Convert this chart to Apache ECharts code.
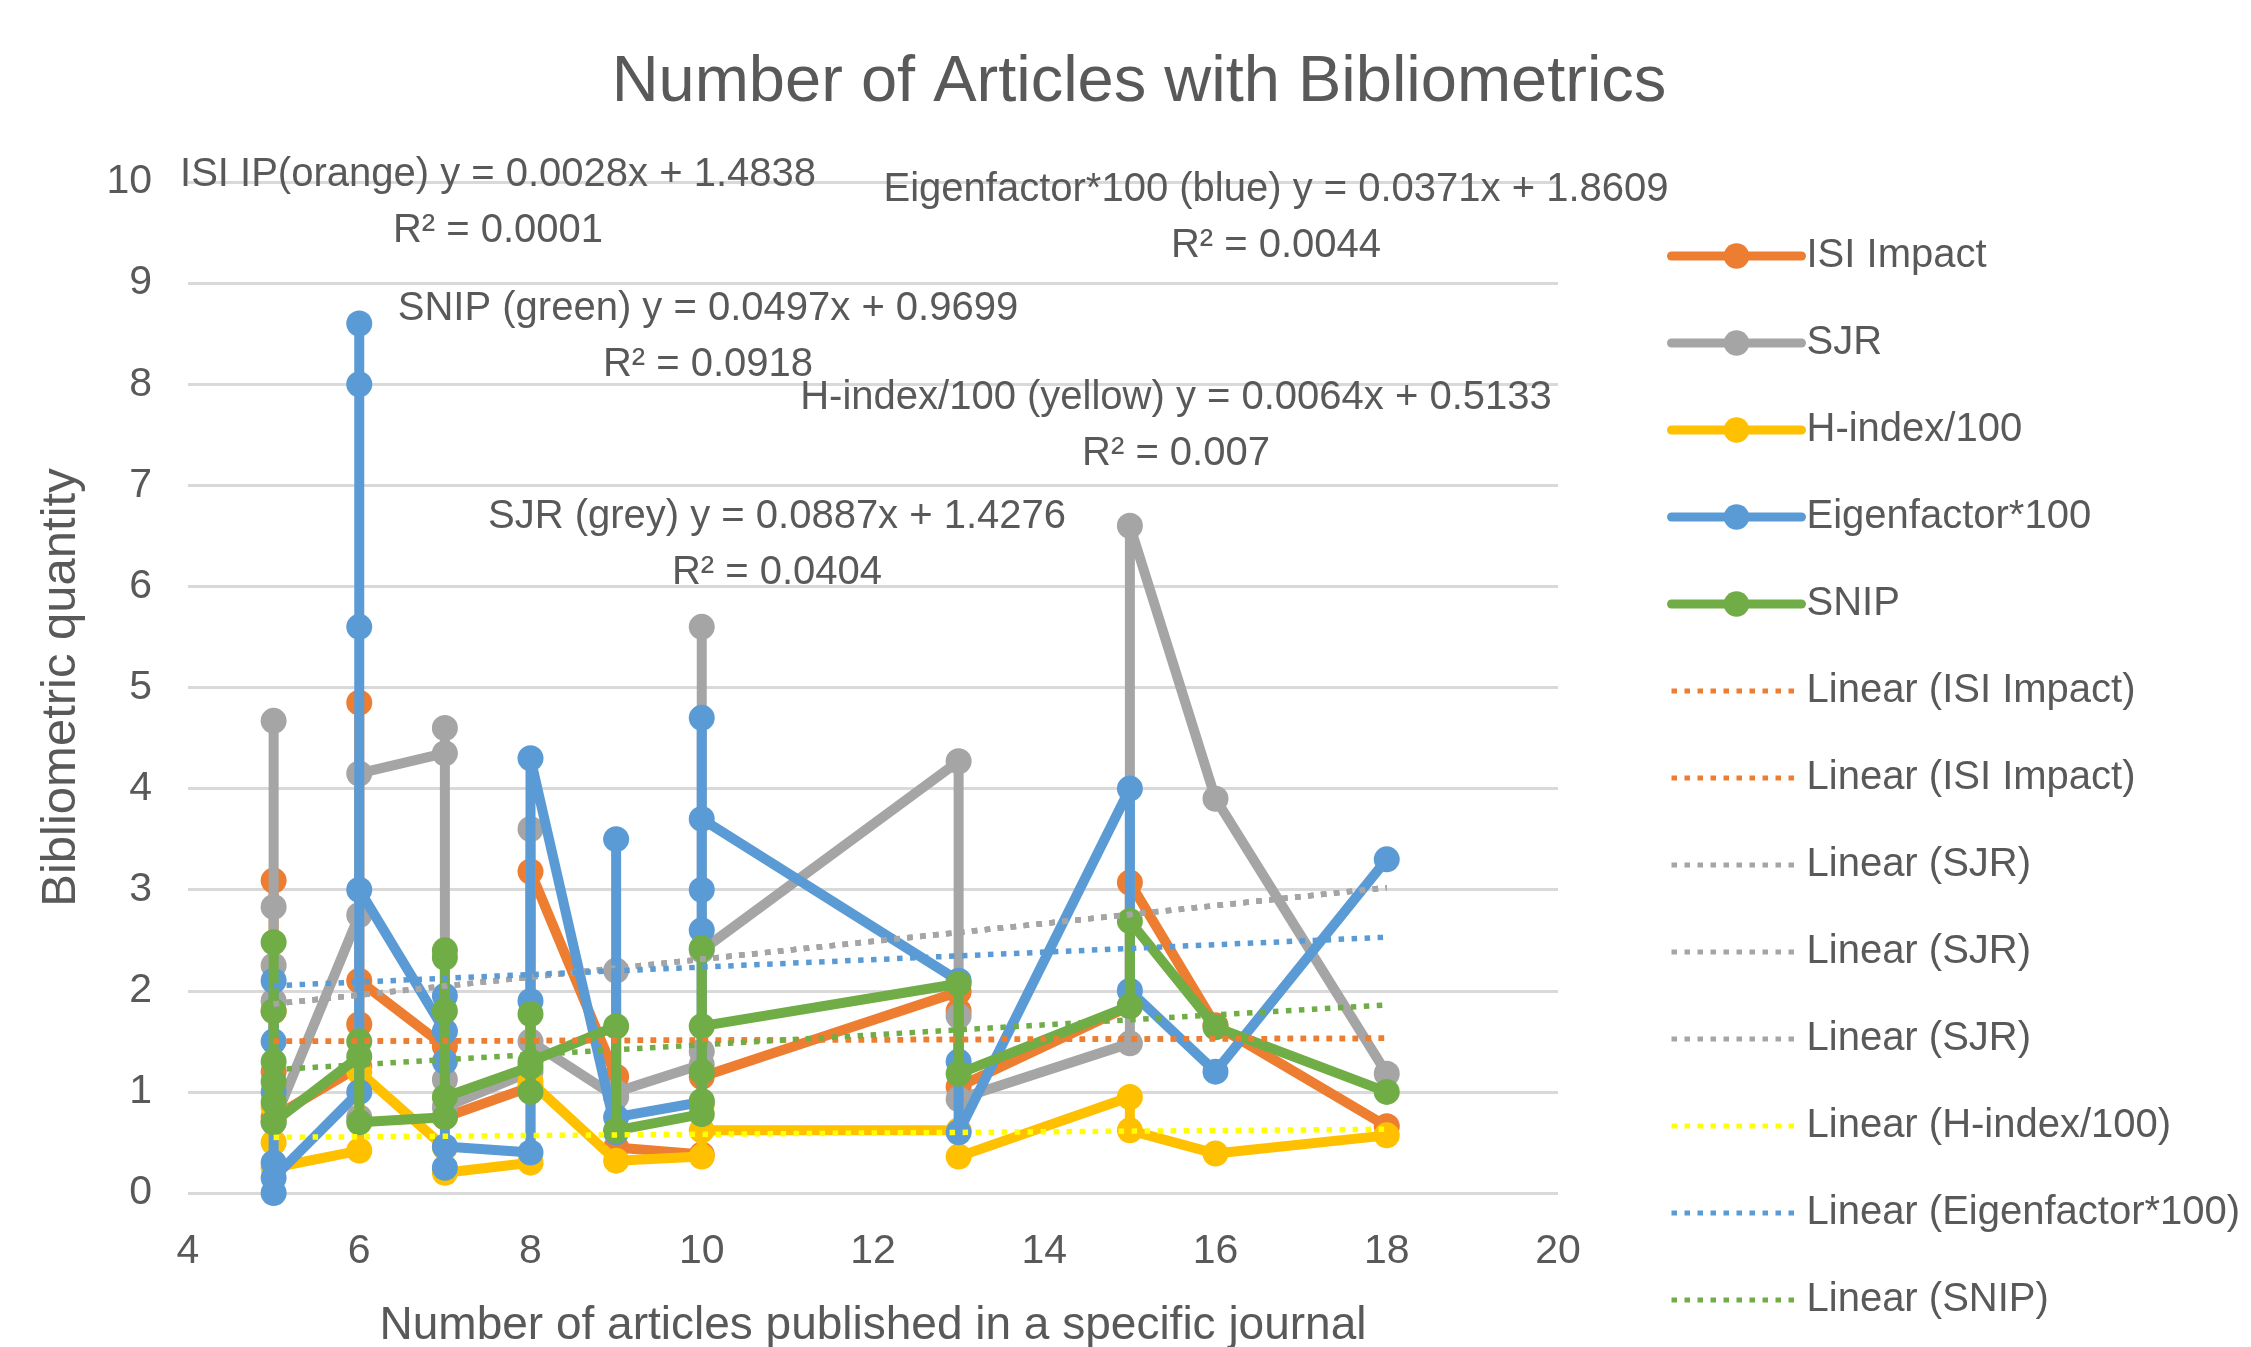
<!DOCTYPE html>
<html><head><meta charset="utf-8">
<script src="https://cdn.jsdelivr.net/npm/echarts@6/dist/echarts.min.js"></script>
<style>html,body{margin:0;padding:0;background:#fff}#c{width:2251px;height:1347px}</style>
</head><body><div id="c"></div>
<script>
// ---- data ----
const isiX  = [5,5,5,5, 6,6,6,6, 7,7, 8,8, 9,9, 10,10, 13,13,13, 15,15, 16, 18];
const isiY  = [3.09,1.8,1.2,0.75, 1.25,1.67,4.85,2.1, 1.45,0.75, 1.05,3.18, 1.15,0.45, 0.38,1.15, 1.99,1.8,1.05, 1.85,3.07, 1.66, 0.66];

const sjrX  = [5,5,5,5,5, 6,6,6, 7,7,7,7, 8,8,8, 9,9,9, 10,10,10,10, 13,13,13, 15,15, 16, 18];
const sjrY  = [4.67,2.83,2.25,1.9,0.7, 2.75,0.75,4.15, 4.35,4.6,1.12,0.85, 1.2,3.6,1.5, 0.95,2.2,1.0, 1.27,5.6,1.4,2.4, 4.27,1.75,0.93, 1.48,6.6, 3.9, 1.18];

const hX    = [5,5,5, 6,6, 7,7, 8,8, 9, 10,10,10, 13,13, 15,15, 16, 18];
const hY    = [0.85,0.5,0.25, 0.42,1.2, 0.45,0.2, 0.3,1.1, 0.32, 0.36,0.87,0.62, 0.62,0.36, 0.95,0.62, 0.39, 0.57];

const eigX  = [5,5,5,5,5,5, 6,6,6,6,6, 7,7,7,7,7, 8,8,8, 9,9,9, 10,10,10,10,10, 13,13,13, 15,15, 16, 18];
const eigY  = [2.1,1.5,1.0,0.3,0.0,0.15, 1.0,8.6,8.0,5.6,3.0, 1.6,1.95,1.3,0.25,0.46, 0.4,1.9,4.3, 0.6,3.5,0.75, 0.9,2.6,3.0,4.7,3.7, 2.1,1.3,0.6, 4.0,2.0, 1.2, 3.3];

const snipX = [5,5,5,5,5,5, 6,6,6, 7,7,7,7,7, 8,8,8,8, 9,9, 10,10,10,10,10, 13,13, 15,15, 16, 18];
const snipY = [2.48,1.8,1.3,1.1,0.9,0.7, 1.35,1.5,0.7, 0.75,2.4,2.33,1.8,0.95, 1.25,1.77,1.0,1.3, 1.65,0.62, 0.78,0.91,1.2,2.42,1.65, 2.07,1.18, 1.85,2.69, 1.64, 1.0];

// trendline end points (x = 5 and x = 18)
const trendX    = [5, 18];
const trendIsi  = [1.50, 1.53];
const trendSjr  = [1.87, 3.02];
const trendH    = [0.55, 0.63];
const trendEig  = [2.05, 2.53];
const trendSnip = [1.22, 1.86];

const trendLabels = [
  ['ISI IP(orange) y = 0.0028x + 1.4838', 'R² = 0.0001'],
  ['Eigenfactor*100 (blue) y = 0.0371x + 1.8609', 'R² = 0.0044'],
  ['SNIP (green) y = 0.0497x + 0.9699', 'R² = 0.0918'],
  ['H-index/100 (yellow) y = 0.0064x + 0.5133', 'R² = 0.007'],
  ['SJR (grey) y = 0.0887x + 1.4276', 'R² = 0.0404']
];
const labelPos = [[498,175],[1276,190],[708,309],[1176,398],[777,517]];

// ---- build ----
const zip = (xs, ys) => xs.map((x, i) => [x, ys[i]]);
const FONT = '"Liberation Sans", Arial, sans-serif';
const TXT = '#595959';

function mainSeries(name, xs, ys, color, z) {
  return {
    name, type: 'line', z, data: zip(xs, ys),
    symbol: 'circle', symbolSize: 26, showAllSymbol: true,
    lineStyle: { color, width: 10, cap: 'round', join: 'round' },
    itemStyle: { color },
    emphasis: { disabled: true }
  };
}
function trendSeries(name, ys, color) {
  return {
    name, type: 'line', z: 10, data: zip(trendX, ys),
    symbol: 'circle', showSymbol: false,
    lineStyle: { color, width: 5.5, type: [5.5, 7.5], cap: 'butt' },
    itemStyle: { color, opacity: 0 },
    emphasis: { disabled: true }
  };
}

const C = { o: '#ED7D31', g: '#A5A5A5', y: '#FFC000', b: '#5B9BD5', gr: '#70AD47', yy: '#FFFF00' };

const series = [
  mainSeries('ISI Impact', isiX, isiY, C.o, 2),
  mainSeries('SJR', sjrX, sjrY, C.g, 3),
  mainSeries('H-index/100', hX, hY, C.y, 4),
  mainSeries('Eigenfactor*100', eigX, eigY, C.b, 5),
  mainSeries('SNIP', snipX, snipY, C.gr, 6),
  trendSeries('Linear (ISI Impact)', trendIsi, C.o),
  trendSeries('Linear (ISI Impact) #2', trendIsi, C.o),
  trendSeries('Linear (SJR)', trendSjr, C.g),
  trendSeries('Linear (SJR) #2', trendSjr, C.g),
  trendSeries('Linear (SJR) #3', trendSjr, C.g),
  trendSeries('Linear (H-index/100)', trendH, C.yy),
  trendSeries('Linear (Eigenfactor*100)', trendEig, C.b),
  trendSeries('Linear (SNIP)', trendSnip, C.gr)
];

const legendData = series.map((s, i) => i < 5
  ? { name: s.name, lineStyle: { width: 9 } }
  : { name: s.name, lineStyle: { width: 5 }, itemStyle: { opacity: 0 } });

const graphics = [];
trendLabels.forEach((pair, i) => {
  pair.forEach((t, j) => {
    graphics.push({
      type: 'text', z: 100,
      style: { text: t, x: labelPos[i][0], y: labelPos[i][1] + j * 56,
               align: 'center', verticalAlign: 'middle',
               font: '40px ' + FONT, fill: TXT }
    });
  });
});

const chart = echarts.init(document.getElementById('c'), null, { renderer: 'canvas' });
chart.setOption({
  animation: false,
  backgroundColor: '#fff',
  title: {
    text: 'Number of Articles with Bibliometrics', left: 1134, textAlign: 'center', top: 46,
    textStyle: { fontFamily: FONT, fontSize: 65, fontWeight: 'normal', color: TXT }
  },
  grid: { left: 188, right: 693, top: 182, bottom: 154, containLabel: false, outerBoundsMode: 'none' },
  legend: {
    orient: 'vertical', left: 1662, top: 231,
    itemWidth: 130, itemHeight: 32, itemGap: 47,
    data: legendData,
    formatter: n => n.replace(/ #\d$/, ''),
    textStyle: { fontFamily: FONT, fontSize: 40, color: TXT, lineHeight: 40 }
  },
  xAxis: {
    type: 'value', min: 4, max: 20, interval: 2,
    axisLine: { show: false }, axisTick: { show: false }, splitLine: { show: false },
    axisLabel: { fontFamily: FONT, fontSize: 41, color: TXT, margin: 38 },
    name: 'Number of articles published in a specific journal',
    nameLocation: 'middle', nameGap: 110,
    nameTextStyle: { fontFamily: FONT, fontSize: 46, color: TXT }
  },
  yAxis: {
    type: 'value', min: 0, max: 10, interval: 1,
    axisLine: { show: false }, axisTick: { show: false },
    splitLine: { lineStyle: { color: '#D9D9D9', width: 3 } },
    axisLabel: { fontFamily: FONT, fontSize: 41, color: TXT, margin: 36 },
    name: 'Bibliometric quantity', nameLocation: 'middle', nameGap: 102,
    nameTextStyle: { fontFamily: FONT, fontSize: 49, color: TXT }
  },
  graphic: graphics,
  series
});
</script></body></html>
